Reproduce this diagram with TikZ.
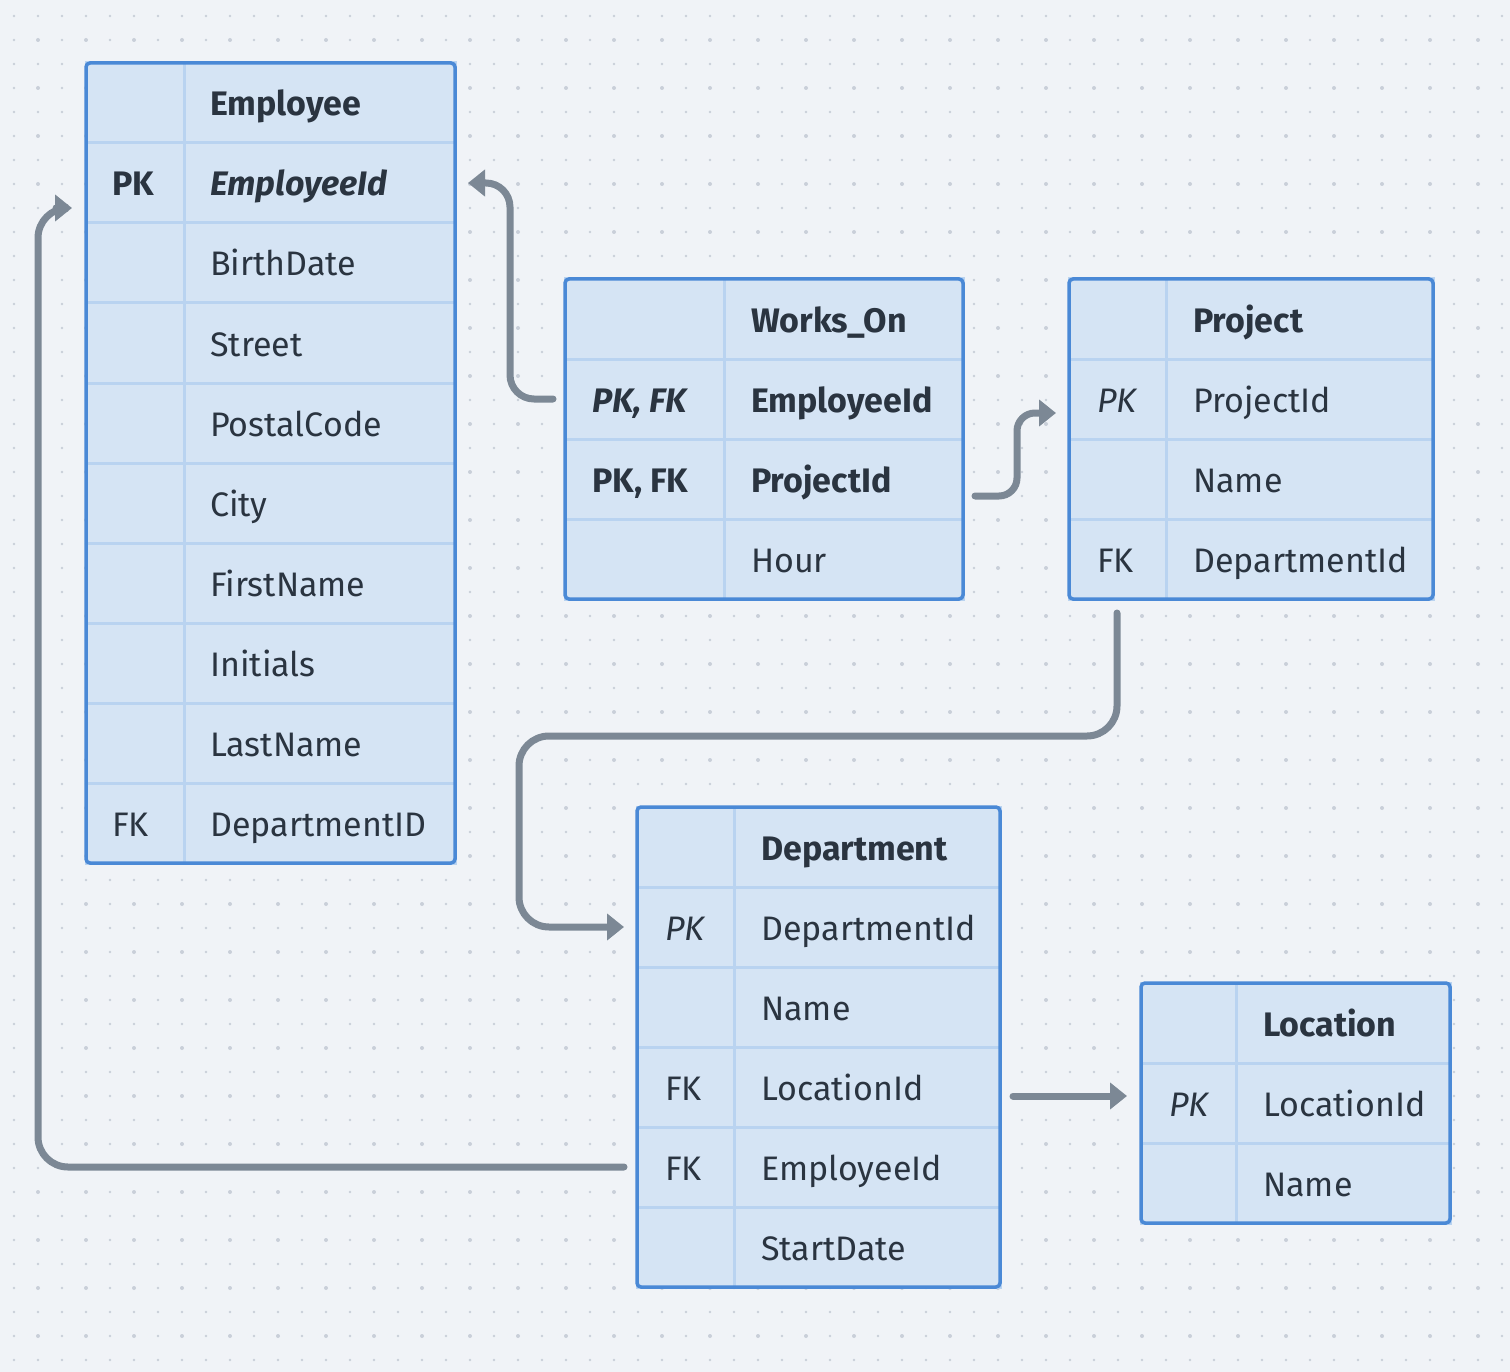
\documentclass[tikz,border=0pt]{standalone}
\usepackage{fontspec}
\setmainfont{Fira Sans}
\usetikzlibrary{arrows.meta}
\definecolor{bgc}{HTML}{F0F3F7}
\definecolor{dotc}{HTML}{C9CFD9}
\definecolor{cellc}{HTML}{D5E4F4}
\definecolor{linec}{HTML}{B9D3F0}
\definecolor{borderc}{HTML}{4A89D6}
\definecolor{textc}{HTML}{2A3440}
\definecolor{edgec}{HTML}{7C8895}

\begin{document}
\begin{tikzpicture}[x=1pt,y=-1pt]
	\tikzstyle{row}=[rectangle,draw=linec,fill=cellc,line width=3pt,minimum height=80pt,anchor=north west,inner sep=0,outer sep=0]
	\tikzstyle{txt}=[anchor=base west,inner sep=0,text=textc,font=\fontsize{34}{40}\selectfont]
	\tikzstyle{divider}=[draw=linec,line width=3pt]
	\tikzstyle{frame}=[draw=borderc,line width=3.5pt,rounded corners=4pt]
	\tikzstyle{edge}=[-{Triangle[length=17pt,width=26pt]},draw=edgec,line width=7pt,line cap=round]
	
	\fill[bgc] (0,0) rectangle (1510,1372);
	\useasboundingbox (0,0) rectangle (1510,1372);
	\foreach \x in {14,38,...,1510}
		\foreach \y in {16,40,...,1372}
			\fill[dotc] (\x,\y) circle (1.3pt);
	\foreach \x in {38,86,...,1510}
		\foreach \y in {40,88,...,1372}
			\fill[dotc] (\x,\y) circle (2pt);
	
	% Employee
	\foreach \k/\f [count=\i] in {{}/{\bfseries Employee}, {\bfseries PK}/{\bfseries\itshape EmployeeId}, {}/BirthDate, {}/Street, {}/PostalCode, {}/City, {}/FirstName, {}/Initials, {}/LastName, FK/DepartmentID} {
		\node[row,minimum width=369pt] (emp\i) at (86,{63+80*(\i-1)}) {};
		\node[txt] at ([xshift=26pt,yshift=-13pt]emp\i.west) {\k};
		\node[txt] at ([xshift=124pt,yshift=-13pt]emp\i.west) {\f};
	}
	\draw[divider] (184,63) -- (184,863);
	\draw[frame] (emp1.north west) rectangle (emp10.south east);
	
	% Works_On
	\foreach \k/\f [count=\i] in {{}/{\bfseries Works\_On}, {\bfseries\itshape PK, FK}/{\bfseries EmployeeId}, {\bfseries PK, FK}/{\bfseries ProjectId}, {}/Hour} {
		\node[row,minimum width=398pt] (wo\i) at (565,{279+80*(\i-1)}) {};
		\node[txt] at ([xshift=27pt,yshift=-13pt]wo\i.west) {\k};
		\node[txt] at ([xshift=186pt,yshift=-13pt]wo\i.west) {\f};
	}
	\draw[divider] (724,279) -- (724,599);
	\draw[frame] (wo1.north west) rectangle (wo4.south east);
	
	% Project
	\foreach \k/\f [count=\i] in {{}/{\bfseries Project}, {\itshape PK}/ProjectId, {}/Name, FK/DepartmentId} {
		\node[row,minimum width=364pt] (pro\i) at (1069,{279+80*(\i-1)}) {};
		\node[txt] at ([xshift=28pt,yshift=-13pt]pro\i.west) {\k};
		\node[txt] at ([xshift=124pt,yshift=-13pt]pro\i.west) {\f};
	}
	\draw[divider] (1166,279) -- (1166,599);
	\draw[frame] (pro1.north west) rectangle (pro4.south east);
	
	% Department
	\foreach \k/\f [count=\i] in {{}/{\bfseries Department}, {\itshape PK}/DepartmentId, {}/Name, FK/LocationId, FK/EmployeeId, {}/StartDate} {
		\node[row,minimum width=363pt] (dep\i) at (637,{807+80*(\i-1)}) {};
		\node[txt] at ([xshift=28pt,yshift=-13pt]dep\i.west) {\k};
		\node[txt] at ([xshift=124pt,yshift=-13pt]dep\i.west) {\f};
	}
	\draw[divider] (734,807) -- (734,1287);
	\draw[frame] (dep1.north west) rectangle (dep6.south east);
	
	% Location
	\foreach \k/\f [count=\i] in {{}/{\bfseries Location}, {\itshape PK}/LocationId, {}/Name} {
		\node[row,minimum width=309pt] (loc\i) at (1141,{983+80*(\i-1)}) {};
		\node[txt] at ([xshift=28pt,yshift=-13pt]loc\i.west) {\k};
		\node[txt] at ([xshift=122pt,yshift=-13pt]loc\i.west) {\f};
	}
	\draw[divider] (1236,983) -- (1236,1223);
	\draw[frame] (loc1.north west) rectangle (loc3.south east);
	
	\draw[edge,rounded corners=24pt] ([xshift=-12pt]wo2.west) -- ++(-43,0) |- ([xshift=13pt]emp2.east);
	\draw[edge,rounded corners=18pt] ([xshift=12pt,yshift=-17pt]wo3.east) -- ++(42,0) |- ([xshift=-13pt,yshift=-14pt]pro2.west);
	\draw[edge,rounded corners=30pt] ([xshift=48pt,yshift=-14pt]pro4.south west) -- ++(0,123) -- ++(-598,0) |- ([xshift=-13pt]dep2.west);
	\draw[edge] ([xshift=13pt,yshift=-9pt]dep4.east) -- ([xshift=-14pt,yshift=7pt]loc2.west);
	\draw[edge,rounded corners=30pt] ([xshift=-13pt]dep5.west) -- ++(-586,0) |- ([xshift=-14pt,yshift=-25pt]emp2.west);
\end{tikzpicture}
\end{document}
